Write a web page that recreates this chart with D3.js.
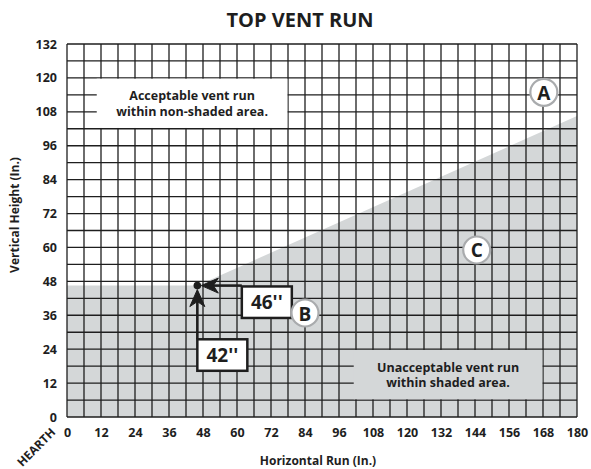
<!DOCTYPE html>
<html>
<head>
<meta charset="utf-8">
<script src="https://cdn.jsdelivr.net/npm/d3@7/dist/d3.min.js"></script>
<style>
  html, body { margin: 0; padding: 0; background: #fff; }
  svg { display: block; font-family: "Open Sans", "DejaVu Sans", sans-serif; }
</style>
</head>
<body>
<svg id="chart" width="591" height="469"></svg>
<script>
// Axis ranges and tick labels (inches)
const xDomain = [0, 180];
const yDomain = [0, 132];
const xTicks = [0, 12, 24, 36, 48, 60, 72, 84, 96, 108, 120, 132, 144, 156, 168, 180];
const yTicks = [0, 12, 24, 36, 48, 60, 72, 84, 96, 108, 120, 132];
const gridStep = 6;

// Boundary of the unacceptable (shaded) region: [run, height]
const boundary = [[0, 46.5], [46, 46.5], [180, 106.5]];

// Reference point and its dimension callouts (box top-left corner in chart units)
const refPoint = { x: 46, y: 46.5 };
const dimLabels = [
  { text: "46''", left: 61.7, top: 46.2, dir: "h" },
  { text: "42''", left: 46, top: 27.5, dir: "v" }
];

// Region markers
const markers = [
  { letter: "A", x: 168.3, y: 114.9 },
  { letter: "B", x: 84, y: 36.8 },
  { letter: "C", x: 144.6, y: 59.1 }
];

// Note boxes: extents in chart units
const notes = [
  { lines: ["Acceptable vent run", "within non-shaded area."], x0: 10.5, x1: 77.8, y0: 102, y1: 120, fill: "#ffffff" },
  { lines: ["Unacceptable vent run", "within shaded area."], x0: 101.2, x1: 167.8, y0: 6, y1: 24, fill: "#d4d7d8" }
];

const svg = d3.select("#chart");
const x = d3.scaleLinear().domain(xDomain).range([67, 577]);
const y = d3.scaleLinear().domain(yDomain).range([417, 44]);
const shade = "#d4d7d8";
const ink = "#1e1e1e";

// Shaded region
const area = d3.area().x(d => x(d[0])).y0(y(0)).y1(d => y(d[1]));
svg.append("path").datum(boundary).attr("d", area).attr("fill", shade);

// Grid
const g = svg.append("g").attr("stroke", ink).attr("stroke-width", 1.3);
g.selectAll("line.v").data(d3.range(xDomain[0], xDomain[1] + 0.1, gridStep)).join("line")
  .attr("x1", d => x(d)).attr("x2", d => x(d)).attr("y1", y(0)).attr("y2", y(132));
g.selectAll("line.h").data(d3.range(yDomain[0], yDomain[1] + 0.1, gridStep)).join("line")
  .attr("y1", d => y(d)).attr("y2", d => y(d)).attr("x1", x(0)).attr("x2", x(180));

// Note boxes
notes.forEach(n => {
  svg.append("rect")
    .attr("x", x(n.x0)).attr("y", y(n.y1) + 0.8)
    .attr("width", x(n.x1) - x(n.x0)).attr("height", y(n.y0) - y(n.y1) - 1.6)
    .attr("fill", n.fill);
  const cx = (x(n.x0) + x(n.x1)) / 2;
  const cy = (y(n.y0) + y(n.y1)) / 2;
  n.lines.forEach((t, i) => {
    svg.append("text").attr("x", cx).attr("y", cy - 3 + i * 15.5)
      .attr("text-anchor", "middle").attr("font-size", 12.5).attr("font-weight", 700)
      .attr("fill", ink).text(t);
  });
});

// Axis tick labels
const xAxis = d3.axisBottom(x).tickValues(xTicks).tickSize(0).tickPadding(11);
const xg = svg.append("g").attr("transform", `translate(0,${y(0)})`).call(xAxis);
const yAxis = d3.axisLeft(y).tickValues(yTicks).tickSize(0).tickPadding(10);
const yg = svg.append("g").attr("transform", `translate(${x(0)},0)`).call(yAxis);
[xg, yg].forEach(a => {
  a.select(".domain").remove();
  a.selectAll("text").attr("font-size", 12.5).attr("font-weight", 700)
    .attr("fill", ink).attr("font-family", "Open Sans, sans-serif");
});

// HEARTH label at the origin
svg.append("text").attr("transform", "translate(36,447) rotate(-45)")
  .attr("text-anchor", "middle").attr("dominant-baseline", "central")
  .attr("font-size", 12).attr("font-weight", 700).attr("fill", ink).text("HEARTH");

// Titles
svg.append("text").attr("x", 300).attr("y", 27).attr("text-anchor", "middle")
  .attr("font-size", 20).attr("font-weight", 700).attr("fill", ink).text("TOP VENT RUN");
svg.append("text").attr("x", 318).attr("y", 465).attr("text-anchor", "middle")
  .attr("font-size", 12).attr("font-weight", 700).attr("fill", ink).text("Horizontal Run (In.)");
svg.append("text").attr("transform", "translate(19,215) rotate(-90)").attr("text-anchor", "middle")
  .attr("font-size", 12).attr("font-weight", 700).attr("fill", ink).text("Vertical Height (In.)");

// Dimension arrows to the reference point
const px = x(refPoint.x), py = y(refPoint.y);
function head(tipX, tipY, dx, dy) {
  // barbed arrowhead; (dx,dy) points from the tip back along the shaft
  const L = 17, W = 7.5, N = 12;
  const nx = -dy, ny = dx;
  const bx = tipX + dx * L, by = tipY + dy * L;
  const mx = tipX + dx * N, my = tipY + dy * N;
  return `M${tipX},${tipY}L${bx + nx * W},${by + ny * W}L${mx},${my}L${bx - nx * W},${by - ny * W}Z`;
}
dimLabels.forEach(d => {
  const bw = 50, bh = 31.5;
  const bx = x(d.left), by = y(d.top);
  if (d.dir === "h") {
    svg.append("line").attr("x1", px + 14).attr("x2", bx).attr("y1", py).attr("y2", py)
      .attr("stroke", ink).attr("stroke-width", 2.6);
    svg.append("path").attr("d", head(px + 4, py, 1, 0)).attr("fill", ink)
      .attr("stroke", ink).attr("stroke-width", 1).attr("stroke-linejoin", "round");
  } else {
    svg.append("line").attr("x1", px).attr("x2", px).attr("y1", py + 14).attr("y2", by)
      .attr("stroke", ink).attr("stroke-width", 2.6);
    svg.append("path").attr("d", head(px, py + 4, 0, 1)).attr("fill", ink)
      .attr("stroke", ink).attr("stroke-width", 1).attr("stroke-linejoin", "round");
  }
  svg.append("rect").attr("x", bx).attr("y", by).attr("width", bw).attr("height", bh)
    .attr("fill", "#fff").attr("stroke", ink).attr("stroke-width", 2.5);
  svg.append("text").attr("x", bx + bw / 2).attr("y", by + bh / 2).attr("text-anchor", "middle")
    .attr("dominant-baseline", "central").attr("font-size", 19).attr("font-weight", 700)
    .attr("fill", ink).text(d.text);
});
svg.append("circle").attr("cx", px).attr("cy", py).attr("r", 3.8).attr("fill", ink);

// Region markers
markers.forEach(m => {
  svg.append("circle").attr("cx", x(m.x)).attr("cy", y(m.y)).attr("r", 13.5)
    .attr("fill", "#fff").attr("stroke", "#a9abad").attr("stroke-width", 2.2);
  svg.append("text").attr("x", x(m.x)).attr("y", y(m.y) + 0.5).attr("text-anchor", "middle")
    .attr("dominant-baseline", "central").attr("font-size", 19).attr("font-weight", 700)
    .attr("fill", ink).text(m.letter);
});
</script>
</body>
</html>
